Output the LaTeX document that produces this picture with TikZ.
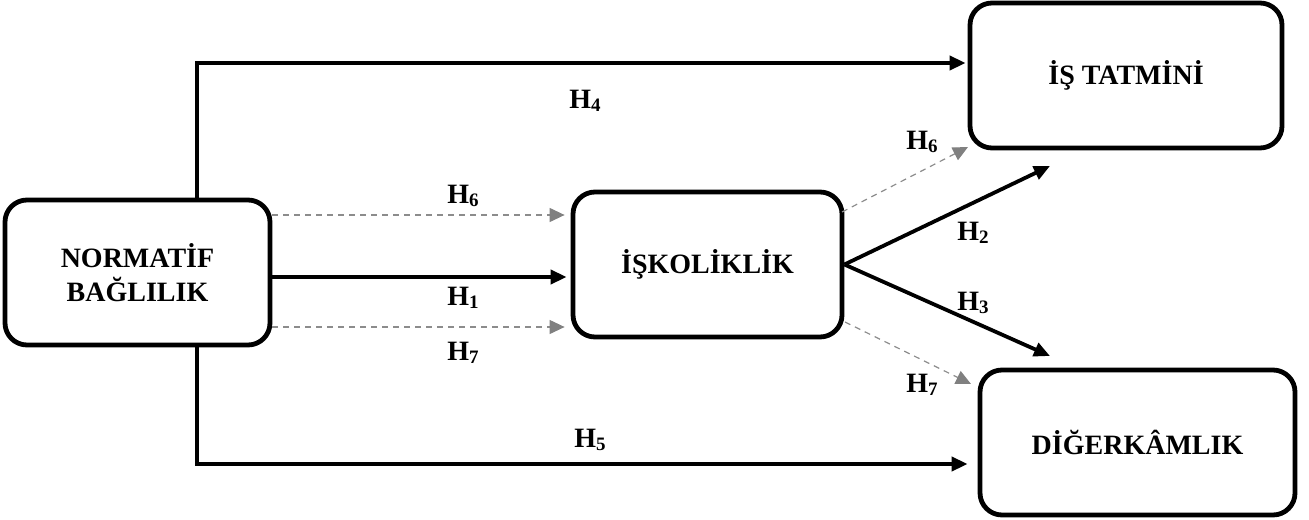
\documentclass[tikz,border=0pt]{standalone}
\usepackage{fontspec}
\setmainfont{Liberation Serif}
\usetikzlibrary{arrows.meta}
\tikzset{
  box/.style={draw, line width=2.4pt, rounded corners=11pt, align=center,
    font=\fontsize{14}{17}\selectfont\bfseries, inner sep=0pt},
  mainarrow/.style={line width=1.9pt, line join=miter, -{Triangle[length=8pt,width=7pt]}},
  medarrow/.style={draw=gray!90, line width=0.6pt, dash pattern=on 3pt off 2.5pt,
    -{Triangle[length=7.5pt,width=7pt,color=gray]}},
  hlabel/.style={font=\fontsize{14}{17}\selectfont\bfseries, inner sep=1pt}
}
\newcommand{\hyp}[1]{H\raisebox{-0.25ex}{\fontsize{9.5}{10}\selectfont #1}}
\begin{document}
\begin{tikzpicture}[x=0.5pt,y=-0.5pt]
\useasboundingbox (0,0) rectangle (1309,519);

% constructs
\node[box, minimum width=132.5pt, minimum height=72.5pt] (N) at (137.5,272.5) {NORMATİF\\BAĞLILIK};
\node[box, minimum width=134.5pt, minimum height=72.5pt] (I) at (707.5,264.5) {İŞKOLİKLİK};
\node[box, minimum width=156pt, minimum height=72.5pt] (T) at (1126,75.5) {İŞ TATMİNİ};
\node[box, minimum width=157.5pt, minimum height=72.5pt] (D) at (1137.5,442.5) {DİĞERKÂMLIK};

% free ends of the paths leaving İŞKOLİKLİK
\coordinate (t2) at (1050,166);
\coordinate (d3) at (1050,356);
\coordinate (t6) at (968,147);
\coordinate (d7) at (971,384);
\coordinate (i6) at (842,212);
\coordinate (i7) at (845,322);

% NORMATİF BAĞLILIK -> İŞKOLİKLİK
\draw[medarrow, shorten >=3pt] (N.east |- 0,215) -- (I.west |- 0,215);
\draw[mainarrow, shorten >=2pt] (N.east |- 0,277) -- (I.west |- 0,277);
\draw[medarrow, shorten >=3pt] (N.east |- 0,327) -- (I.west |- 0,327);

% direct paths around the mediator
\draw[mainarrow, shorten >=1pt] (N.north -| 197,0) -- (197,63) -- (T.west |- 0,63);
\draw[mainarrow, shorten >=5pt] (N.south -| 197,0) -- (197,464) -- (D.west |- 0,464);

% İŞKOLİKLİK -> outcomes
\draw[mainarrow] (I.east) -- (t2);
\draw[mainarrow] (I.east) -- (d3);
\draw[medarrow] (i6) -- (t6);
\draw[medarrow] (i7) -- (d7);

% hypothesis labels
\node[hlabel] (h4) at (585,101) {\hyp{4}};
\node[hlabel] (h5) at (590,440) {\hyp{5}};
\node[hlabel] (h6a) at (463,196) {\hyp{6}};
\node[hlabel] (h1) at (463,298) {\hyp{1}};
\node[hlabel] (h7a) at (463,353) {\hyp{7}};
\node[hlabel] (h6b) at (922,142) {\hyp{6}};
\node[hlabel] (h2) at (973,233) {\hyp{2}};
\node[hlabel] (h3) at (973,303) {\hyp{3}};
\node[hlabel] (h7b) at (922,385) {\hyp{7}};
\end{tikzpicture}
\end{document}
